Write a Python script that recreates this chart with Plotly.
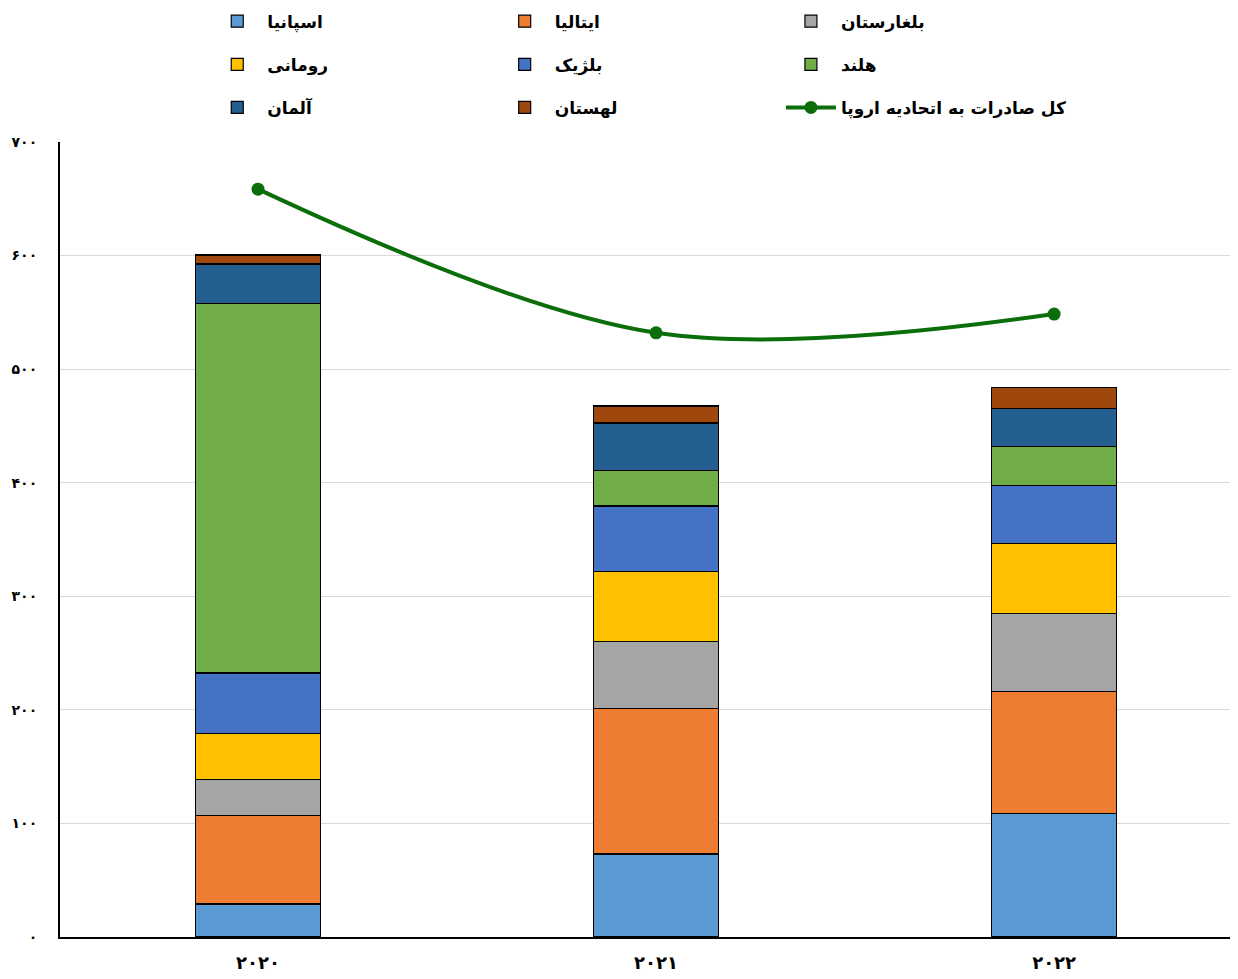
import plotly.graph_objects as go

years = ["۲۰۲۰", "۲۰۲۱", "۲۰۲۲"]

spain = [29, 73, 109]
italy = [78, 128.5, 107.5]
bulgaria = [32, 59, 68.5]
romania = [40.5, 61, 61.5]
belgium = [53, 58, 51]
netherlands = [325.5, 31, 34.5]
germany = [34.5, 42, 33.5]
poland = [8, 15, 18.5]
total_eu = [658.5, 532, 548.5]

names = ["اسپانیا", "ایتالیا", "بلغارستان", "رومانی", "بلژیک", "هلند", "آلمان", "لهستان"]
series = [spain, italy, bulgaria, romania, belgium, netherlands, germany, poland]
colors = ["#5B9BD5", "#ED7D31", "#A5A5A5", "#FFC000", "#4472C4", "#70AD47", "#255E91", "#9E480E"]
legend_ids = ["legend", "legend2", "legend3", "legend", "legend2", "legend3", "legend", "legend2"]
total_name = "کل صادرات به اتحادیه اروپا"

tick_vals = [0, 100, 200, 300, 400, 500, 600, 700]
tick_text = ["۰", "۱۰۰", "۲۰۰", "۳۰۰", "۴۰۰", "۵۰۰", "۶۰۰", "۷۰۰"]

FONT = "DejaVu Sans"

fig = go.Figure()
for i, (nm, vals, col, lg) in enumerate(zip(names, series, colors, legend_ids)):
    fig.add_trace(go.Bar(
        x=years, y=vals, name=nm,
        marker=dict(color=col, line=dict(color="black", width=1.2)),
        width=0.314, legend=lg, legendgroup="g%d" % i,
    ))

fig.add_trace(go.Scatter(
    x=years, y=total_eu, name=total_name, mode="lines+markers",
    line=dict(color="#0B6E0B", width=4, shape="spline", smoothing=1.0),
    marker=dict(color="#0B6E0B", size=13),
    legend="legend3", legendgroup="g8",
))

leg_common = dict(
    yanchor="top", xanchor="left", y=1.174,
    font=dict(family=FONT, size=17, color="black", weight="bold"),
    bgcolor="rgba(0,0,0,0)", tracegroupgap=18, traceorder="grouped",
    itemwidth=50,
)

# the page body adds an 8px margin, so the figure is 8px smaller and margins shifted
fig.update_layout(
    barmode="stack",
    width=1230, height=971,
    margin=dict(l=52, r=0, t=134, b=42, autoexpand=False),
    paper_bgcolor="white", plot_bgcolor="white",
    font=dict(family=FONT, size=15, color="black", weight="bold"),
    legend=dict(x=0.125, **leg_common),
    legend2=dict(x=0.369, **leg_common),
    legend3=dict(x=0.612, **leg_common),
    xaxis=dict(
        type="category", range=[-0.4975, 2.462],
        showline=True, linecolor="black", linewidth=2,
        tickfont=dict(family=FONT, size=18, color="black", weight="bold"),
        ticks="", showgrid=False, ticklabelstandoff=8,
    ),
    yaxis=dict(
        range=[0, 700], tickvals=tick_vals, ticktext=tick_text,
        showline=True, linecolor="black", linewidth=2,
        gridcolor="#D9D9D9", gridwidth=1,
        tickfont=dict(family=FONT, size=14, color="black", weight="bold"),
        ticks="", ticklabelstandoff=18, zeroline=False,
    ),
)

fig.write_html("out.html")
